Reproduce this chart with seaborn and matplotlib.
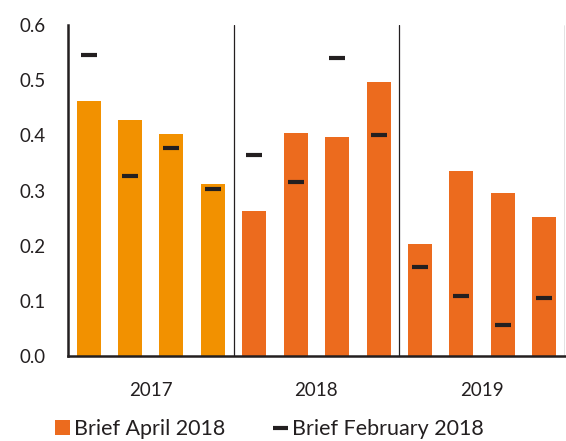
import numpy as np
import pandas as pd
import matplotlib
matplotlib.use("Agg")
import matplotlib.pyplot as plt
import seaborn as sns
from matplotlib.patches import Patch
from matplotlib.lines import Line2D

years = ["2017", "2018", "2019"]
quarters = ["2017Q1", "2017Q2", "2017Q3", "2017Q4",
            "2018Q1", "2018Q2", "2018Q3", "2018Q4",
            "2019Q1", "2019Q2", "2019Q3", "2019Q4"]
year_of = ["2017"] * 4 + ["2018"] * 4 + ["2019"] * 4
brief_april = [0.463, 0.428, 0.403, 0.312,
               0.263, 0.405, 0.397, 0.497,
               0.203, 0.336, 0.295, 0.252]
brief_feb = [0.545, 0.327, 0.378, 0.302,
             0.365, 0.315, 0.540, 0.401,
             0.162, 0.109, 0.056, 0.105]
yticks = [0.0, 0.1, 0.2, 0.3, 0.4, 0.5, 0.6]
legend_labels = ["Brief April 2018", "Brief February 2018"]

c2017 = "#F29100"
cdark = "#EC6B1E"
ink = "#231F20"

sns.set_theme(style="white")
plt.rcParams["font.family"] = ["Lato", "DejaVu Sans"]

df = pd.DataFrame({"quarter": quarters, "year": year_of,
                   "april": brief_april, "feb": brief_feb,
                   "pos": np.arange(len(quarters))})

fig = plt.figure(figsize=(5.66, 4.41), dpi=100)
ax = fig.add_axes([0.120, 0.193, 0.878, 0.750])

sns.barplot(data=df, x="quarter", y="april", hue="year",
            palette={"2017": c2017, "2018": cdark, "2019": cdark},
            dodge=False, width=0.58, legend=False, ax=ax,
            edgecolor="none", saturation=1)
sns.scatterplot(data=df, x="pos", y="feb", marker="_", s=135,
                color=ink, linewidth=3.0, ax=ax, legend=False, zorder=5)

ax.set_xlim(-0.5, 11.5)
ax.set_ylim(0, 0.6)
ax.set_xlabel("")
ax.set_ylabel("")

for b in [3.5, 7.5, 11.5]:
    ax.axvline(b, color=ink, lw=0.9, zorder=1)

ax.set_xticks([-0.5, 3.5, 7.5, 11.5])
ax.set_xticklabels([])
ax.set_xticks([1.5, 5.5, 9.5], minor=True)
ax.set_xticklabels(years, minor=True)
ax.tick_params(axis="x", which="major", length=7, width=1.5, color=ink, direction="out")
ax.tick_params(axis="x", which="minor", length=0, pad=19, labelsize=13.5, labelcolor=ink)

ax.set_yticks(yticks)
ax.set_yticklabels([f"{v:.1f}" for v in yticks])
ax.tick_params(axis="y", length=7, width=1.5, color=ink, direction="out",
               pad=9, labelsize=13.5, labelcolor=ink)

for s in ["top", "right"]:
    ax.spines[s].set_visible(False)
for s in ["left", "bottom"]:
    ax.spines[s].set_color(ink)
    ax.spines[s].set_linewidth(1.8)

handles = [Patch(facecolor=cdark, edgecolor="none"),
           Line2D([0], [0], color=ink, lw=3, solid_capstyle="butt")]
fig.legend(handles, legend_labels, loc="lower left", ncol=2,
           bbox_to_anchor=(0.097, 0.004), frameon=False, fontsize=15.5,
           borderpad=0, borderaxespad=0,
           handlelength=0.7, handleheight=0.68, handletextpad=0.2,
           columnspacing=2.2, labelcolor=ink)

fig.savefig("out.png", dpi=100)
